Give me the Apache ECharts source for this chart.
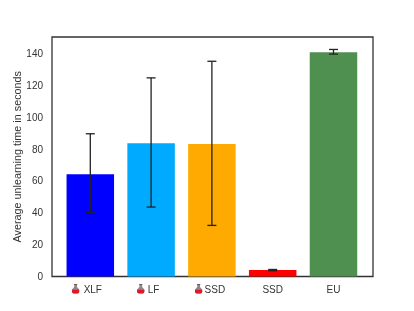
<!DOCTYPE html>
<html><head><meta charset="utf-8">
<style>html,body{margin:0;padding:0;background:#fff}#c{width:414px;height:311px}</style>
<script src="https://cdn.jsdelivr.net/npm/echarts@6/dist/echarts.min.js"></script>
</head><body><div id="c"></div>
<script>
const categories = ['XLF','LF','SSD','SSD','EU'];
const hasFlask = [true,true,true,false,false];
const values = [64,83.5,83,4,140.5];
const errLow = [40,43.5,32,3.6,139.3];
const errHigh = [89.4,124.4,134.8,4.4,142.2];
const barColors = ['#0000ff','#00aaff','#ffaa00','#ff0000','#4f8f50'];
const yTicks = [0,20,40,60,80,100,120,140];

const flask = 'data:image/svg+xml;utf8,' + encodeURIComponent(
 '<svg xmlns="http://www.w3.org/2000/svg" width="8" height="14" viewBox="0 0 8 14">'+
 '<rect x="2.4" y="0" width="3.2" height="1.6" fill="#6a5a58"/>'+
 '<path d="M2.6 1.5 H5.4 V3.4 L7.6 6 Q8.2 10 5.5 10 H2.5 Q-0.2 10 0.4 6 L2.6 3.4 Z" fill="#948686"/>'+
 '<path d="M0.3 6.2 H7.7 Q8.3 10 5.5 10 H2.5 Q-0.3 10 0.3 6.2 Z" fill="#e0182c"/></svg>');

const chart = echarts.init(document.getElementById('c'),null,{renderer:'canvas'});
chart.setOption({
 animation:false,
 backgroundColor:'#fff',
 textStyle:{fontFamily:'Liberation Sans'},
 grid:{left:52,right:41,top:37,bottom:34.5,outerBoundsMode:'none',show:true,borderColor:'#333',borderWidth:1.3,backgroundColor:'#fff'},
 xAxis:{type:'value',min:-0.63,max:4.65,containShape:false,splitLine:{show:false},
  axisLine:{show:false},axisTick:{show:false},
  axisLabel:{customValues:[0,1,2,3,4],margin:7,color:'#333',fontSize:10,
   formatter:v=>hasFlask[v]?'{f|}{t'+v+'|'+categories[v]+'}':'{n|'+categories[v]+'}',
   rich:{f:{backgroundColor:{image:flask},width:8,height:14},
    n:{fontSize:10,color:'#333',height:14},
    t0:{fontSize:10,color:'#333',padding:[0,7,0,4]},
    t1:{fontSize:10,color:'#333',padding:[0,6,0,3]},
    t2:{fontSize:10,color:'#333',padding:[0,4,0,2]}}}},
 yAxis:{type:'value',min:0,max:150,interval:20,splitLine:{show:false},
  name:'Average unlearning time in seconds',nameLocation:'middle',nameGap:28,nameMoveOverlap:false,
  nameTextStyle:{fontSize:10.8,color:'#333'},
  axisLine:{show:false},axisTick:{show:false},
  axisLabel:{margin:9,fontSize:10,color:'#333',verticalAlign:'top',padding:[-4,0,0,0],customValues:yTicks}},
 series:[
  {type:'bar',barWidth:47.5,
   data:values.map((v,i)=>({value:[i,v],itemStyle:{color:barColors[i]}}))},
  {type:'custom',z:5,silent:true,
   data:values.map((v,i)=>[i,errLow[i],errHigh[i]]),
   encode:{x:0,y:[1,2]},
   renderItem:(p,api)=>{
    const a=api.coord([api.value(0),api.value(1)]),b=api.coord([api.value(0),api.value(2)]);
    const s={stroke:'#222',lineWidth:1.3};
    const x=a[0],c=4.5;
    return {type:'group',children:[
     {type:'line',shape:{x1:x,y1:a[1],x2:x,y2:b[1]},style:s},
     {type:'line',shape:{x1:x-c,y1:a[1],x2:x+c,y2:a[1]},style:s},
     {type:'line',shape:{x1:x-c,y1:b[1],x2:x+c,y2:b[1]},style:s}]};
   }}
 ]
});
</script></body></html>
